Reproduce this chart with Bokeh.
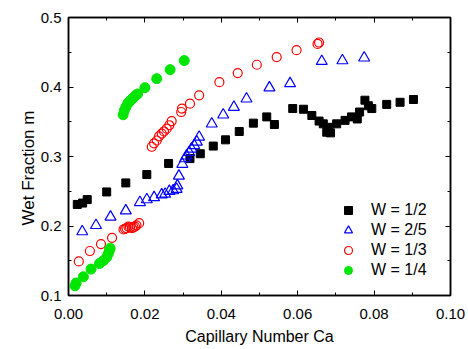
from bokeh.plotting import figure
from bokeh.models import (Range1d, FixedTicker, NumeralTickFormatter, LinearAxis,
                          Title, CustomJSTickFormatter)
from bokeh.embed import file_html
from bokeh.resources import INLINE

# ---------------- data ----------------
x_half = [0.0023, 0.0037, 0.0049, 0.0100, 0.0150, 0.0205, 0.0262, 0.0318, 0.0345, 0.0379,
          0.0411, 0.0447, 0.0484, 0.0519, 0.0539, 0.0587, 0.0615, 0.0637, 0.0656, 0.0667,
          0.0680, 0.0676, 0.0686, 0.0702, 0.0724, 0.0741, 0.0756, 0.0762, 0.0776, 0.0785,
          0.0794, 0.0833, 0.0868, 0.0903]
y_half = [0.231, 0.233, 0.238, 0.249, 0.262, 0.274, 0.290, 0.297, 0.304, 0.315,
          0.324, 0.336, 0.348, 0.357, 0.346, 0.369, 0.368, 0.359, 0.351, 0.347,
          0.342, 0.335, 0.334, 0.347, 0.352, 0.357, 0.354, 0.364, 0.381, 0.373,
          0.369, 0.375, 0.378, 0.382]

x_2_5 = [0.0036, 0.0072, 0.0110, 0.0150, 0.0187, 0.0205, 0.0224, 0.0244, 0.0253, 0.0264,
         0.0274, 0.0283, 0.0285, 0.0289, 0.0298, 0.0305, 0.0309, 0.0316, 0.0322, 0.0329,
         0.0336, 0.0342, 0.0375, 0.0405, 0.0433, 0.0466, 0.0526, 0.0580, 0.0663, 0.0717,
         0.0774]
y_2_5 = [0.192, 0.201, 0.213, 0.222, 0.234, 0.238, 0.241, 0.245, 0.246, 0.250,
         0.251, 0.253, 0.258, 0.272, 0.289, 0.297, 0.301, 0.306, 0.311, 0.316,
         0.321, 0.328, 0.347, 0.360, 0.371, 0.383, 0.399, 0.405, 0.437, 0.438,
         0.442]

x_third = [0.0027, 0.0056, 0.0085, 0.0114, 0.0144, 0.0148, 0.0152, 0.0157, 0.0161, 0.0166,
           0.0170, 0.0174, 0.0178, 0.0185, 0.0218, 0.0224, 0.0231, 0.0237, 0.0244, 0.0250,
           0.0257, 0.0264, 0.0270, 0.0295, 0.0297, 0.0318, 0.0342, 0.0395, 0.0443, 0.0493,
           0.0545, 0.0597, 0.0652, 0.0656]
y_third = [0.149, 0.164, 0.174, 0.183, 0.195, 0.196, 0.197, 0.199, 0.198, 0.197,
           0.198, 0.199, 0.201, 0.204, 0.314, 0.319, 0.323, 0.329, 0.333, 0.336,
           0.340, 0.345, 0.351, 0.364, 0.369, 0.376, 0.388, 0.407, 0.420, 0.432,
           0.443, 0.453, 0.462, 0.464]

x_quarter = [0.0017, 0.0020, 0.0039, 0.0059, 0.0081, 0.0091, 0.0100, 0.0104, 0.0107, 0.0109,
             0.0143, 0.0146, 0.0150, 0.0155, 0.0158, 0.0163, 0.0167, 0.0171, 0.0176, 0.0181,
             0.0200, 0.0231, 0.0266, 0.0303]
y_quarter = [0.114, 0.118, 0.127, 0.138, 0.146, 0.150, 0.155, 0.160, 0.165, 0.168,
             0.360, 0.366, 0.371, 0.376, 0.378, 0.381, 0.383, 0.385, 0.388, 0.390,
             0.399, 0.412, 0.425, 0.438]

x_ticks = [0.0, 0.02, 0.04, 0.06, 0.08, 0.10]
x_minor = [0.01, 0.03, 0.05, 0.07, 0.09]
y_ticks = [0.1, 0.2, 0.3, 0.4, 0.5]
y_minor = [0.15, 0.25, 0.35, 0.45]

FONT = "Liberation Sans"

p = figure(output_backend="svg", toolbar_location=None,
           frame_width=382, frame_height=278,
           min_border_left=68, min_border_right=18, min_border_top=17, min_border_bottom=54,
           x_range=Range1d(0, 0.1), y_range=Range1d(0.1, 0.5),
           x_axis_label="Capillary Number Ca", y_axis_label=None)
p.grid.visible = False
p.outline_line_color = "black"
p.outline_line_width = 1.5
p.background_fill_color = "white"
p.border_fill_color = "white"

def style_axis(ax, ticker):
    ax.ticker = ticker
    ax.axis_line_width = 1.5
    ax.axis_line_color = "black"
    ax.major_tick_in = 5
    ax.major_tick_out = 0
    ax.minor_tick_in = 3
    ax.minor_tick_out = 0
    ax.major_tick_line_color = "black"
    ax.minor_tick_line_color = "black"
    ax.major_label_text_font = FONT
    ax.major_label_text_font_size = "15px"
    ax.major_label_text_color = "black"
    ax.axis_label_text_font = FONT
    ax.axis_label_text_font_size = "16px"
    ax.axis_label_text_font_style = "normal"
    ax.axis_label_text_color = "black"

xa = p.xaxis[0]
style_axis(xa, FixedTicker(ticks=x_ticks, minor_ticks=x_minor))
xa.formatter = NumeralTickFormatter(format="0.00")
xa.major_label_standoff = 13
xa.axis_label_standoff = 6

ya = p.yaxis[0]
style_axis(ya, FixedTicker(ticks=y_ticks, minor_ticks=y_minor))
ya.formatter = NumeralTickFormatter(format="0.0")
ya.major_label_standoff = 7

for side, ticker in (("above", FixedTicker(ticks=x_ticks, minor_ticks=x_minor)),
                     ("right", FixedTicker(ticks=y_ticks, minor_ticks=y_minor))):
    ax = LinearAxis()
    style_axis(ax, ticker)
    ax.formatter = CustomJSTickFormatter(code="return '';")
    ax.major_label_text_font_size = "0px"
    ax.major_label_standoff = 0
    p.add_layout(ax, side)

# y-axis title (sits slightly below the frame centre, as in the reference)
p.add_layout(Title(text="Wet Fraction m", align="left", offset=70, standoff=0,
                   text_font=FONT, text_font_size="17px", text_font_style="normal",
                   text_color="black"), "left")

p.scatter(x_half, y_half, marker="square", size=8, fill_color="black",
          line_color="black", legend_label="W = 1/2")
p.scatter(x_2_5, y_2_5, marker="triangle", size=11, fill_color=None,
          line_color="#0000FF", line_width=1.2, legend_label="W = 2/5")
p.scatter(x_third, y_third, marker="circle", size=9, fill_color=None,
          line_color="#FF0000", line_width=1.2, legend_label="W = 1/3")
p.scatter(x_quarter, y_quarter, marker="circle", size=10, fill_color="#00E600",
          line_color="#00E600", legend_label="W = 1/4")

lg = p.legend[0]
lg.location = (270, 15)
lg.border_line_color = None
lg.background_fill_alpha = 0
lg.padding = 0
lg.margin = 0
lg.spacing = 0
lg.glyph_width = 20
lg.glyph_height = 20
lg.label_height = 20
lg.label_standoff = 13
lg.label_text_font = FONT
lg.label_text_font_size = "16px"
lg.label_text_color = "black"

open("out.html", "w").write(file_html(p, INLINE))
